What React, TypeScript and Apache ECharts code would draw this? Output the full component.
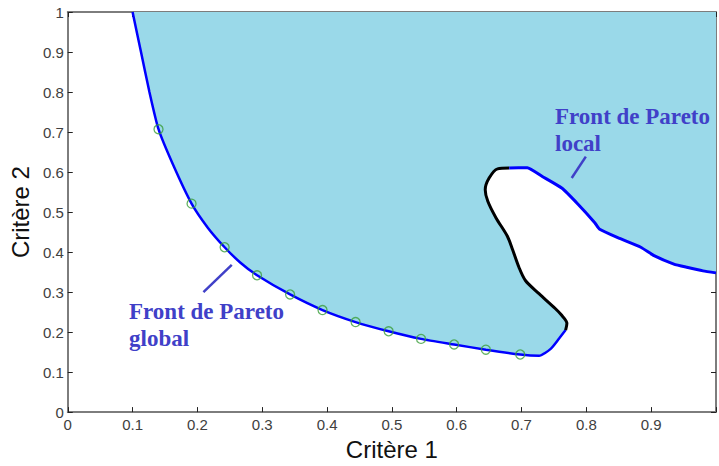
import React, { useEffect, useRef } from 'react';
import * as echarts from 'echarts';

// Global Pareto front (Critère 1, Critère 2), from the top edge down to the bend
const globalFront: [number, number][] = [
  [0.100, 1.000], [0.113, 0.900], [0.126, 0.800], [0.140, 0.707], [0.1625, 0.618],
  [0.191, 0.521], [0.216, 0.461], [0.242, 0.412], [0.266, 0.374], [0.292, 0.342],
  [0.343, 0.294], [0.393, 0.255], [0.444, 0.225], [0.495, 0.202], [0.545, 0.183],
  [0.596, 0.169], [0.645, 0.156], [0.698, 0.144], [0.727, 0.141], [0.745, 0.158],
  [0.758, 0.184], [0.768, 0.205],
];

// Sampled solutions lying on the global front
const frontSamples: [number, number][] = [
  [0.140, 0.707], [0.191, 0.521], [0.242, 0.412], [0.292, 0.342], [0.343, 0.294],
  [0.393, 0.255], [0.444, 0.225], [0.495, 0.202], [0.545, 0.183], [0.596, 0.169],
  [0.645, 0.156], [0.698, 0.144],
];

// Dominated boundary joining the two fronts
const dominatedEdge: [number, number][] = [
  [0.768, 0.205], [0.770, 0.222], [0.762, 0.242], [0.752, 0.259], [0.727, 0.296],
  [0.706, 0.329], [0.696, 0.362], [0.686, 0.407], [0.678, 0.440], [0.6605, 0.486],
  [0.648, 0.527], [0.644, 0.556], [0.650, 0.585], [0.663, 0.608], [0.681, 0.610],
];

// Local Pareto front, running to the right edge
const localFront: [number, number][] = [
  [0.681, 0.610], [0.709, 0.611], [0.732, 0.589], [0.762, 0.560], [0.7875, 0.519],
  [0.813, 0.4735], [0.8206, 0.457], [0.8485, 0.436], [0.884, 0.412], [0.9044, 0.391],
  [0.935, 0.370], [0.955, 0.362], [0.980, 0.353], [1.000, 0.348],
];

// Upper-right corners closing the feasible region
const regionCorners: [number, number][] = [[1.0, 1.0], [0.1, 1.0]];

// Leader lines from the captions to the fronts
const globalLeader: [number, number][] = [[0.253, 0.368], [0.2093, 0.300]];
const localLeader: [number, number][] = [[0.7992, 0.6386], [0.7774, 0.585]];

const xName = 'Critère 1';
const yName = 'Critère 2';

const feasibleOutline = [...globalFront, ...dominatedEdge, ...localFront, ...regionCorners];

const SANS = '"Liberation Sans", Arial, Helvetica, sans-serif';
const SERIF = '"Liberation Serif", "Times New Roman", serif';
const CAPTION = '#4040c8';

const tickLabel = (v: number) => (v > 0.99 ? '1' : String(Math.round(v * 10) / 10));

function axisBase(hideLabels: boolean) {
  return {
    type: 'value' as const,
    min: 0,
    max: 1,
    interval: 0.1,
    axisLine: { show: true, onZero: false, lineStyle: { color: '#7d7d7d', width: 2 } },
    axisTick: { show: true, inside: true, length: 5, lineStyle: { color: '#222', width: 1 } },
    splitLine: { show: false },
    axisLabel: hideLabels
      ? { show: false }
      : { show: true, fontSize: 15, color: '#404040', fontFamily: SANS },
  };
}

function caption(text: string, x: number, y: number) {
  return {
    type: 'text', x, y, z: 20, silent: true,
    style: { text, fill: CAPTION, font: `bold 23px ${SERIF}`, align: 'left', verticalAlign: 'middle' },
  };
}

export default function App() {
  const ref = useRef<HTMLDivElement>(null);

  useEffect(() => {
    if (!ref.current) return;
    const chart = echarts.init(ref.current, undefined, { renderer: 'svg' });

    const x0 = axisBase(false);
    const y0 = axisBase(false);

    chart.setOption({
      animation: false,
      backgroundColor: '#ffffff',
      grid: { left: 67, top: 12, width: 656, height: 404 },
      xAxis: [
        {
          ...x0,
          position: 'bottom',
          name: xName,
          nameLocation: 'middle',
          nameGap: 24,
          nameTextStyle: { fontSize: 24, color: '#111', fontFamily: SANS },
          axisLabel: {
            ...x0.axisLabel,
            margin: 5,
            formatter: (v: number) => (v > 0.99 ? '' : tickLabel(v)),
          },
        },
        { ...axisBase(true), position: 'top' },
      ],
      yAxis: [
        {
          ...y0,
          position: 'left',
          name: yName,
          nameLocation: 'middle',
          nameRotate: 90,
          nameGap: 30,
          nameTextStyle: { fontSize: 24, color: '#111', fontFamily: SANS },
          axisLabel: { ...y0.axisLabel, margin: 4, formatter: tickLabel },
        },
        { ...axisBase(true), position: 'right' },
      ],
      graphic: [
        caption('Front de Pareto', 129, 311),
        caption('global', 129, 338),
        caption('Front de Pareto', 555, 116.5),
        caption('local', 555, 143),
      ],
      series: [
        {
          type: 'custom',
          silent: true,
          clip: false,
          data: [feasibleOutline[0]],
          renderItem: (_params: any, api: any) => ({
            type: 'polygon',
            shape: { points: feasibleOutline.map((p) => api.coord(p)) },
            style: { fill: '#9ad9e9', stroke: 'none' },
          }),
          z: 1,
        },
        {
          type: 'line', data: globalFront, showSymbol: false, silent: true, smooth: 0.2,
          lineStyle: { color: '#0000ff', width: 2.5 }, z: 3,
        },
        {
          type: 'line', data: dominatedEdge, showSymbol: false, silent: true, smooth: 0.3,
          lineStyle: { color: '#000000', width: 3 }, z: 3,
        },
        {
          type: 'line', data: localFront, showSymbol: false, silent: true, smooth: 0.15,
          lineStyle: { color: '#0000ff', width: 3 }, z: 3,
        },
        {
          type: 'scatter', data: frontSamples, symbol: 'circle', symbolSize: 9, silent: true,
          itemStyle: { color: 'rgba(0,0,0,0)', borderColor: '#3c9f3c', borderWidth: 1.3 }, z: 4,
        },
        {
          type: 'line', data: globalLeader, showSymbol: false, silent: true,
          lineStyle: { color: CAPTION, width: 2.5 }, z: 3,
        },
        {
          type: 'line', data: localLeader, showSymbol: false, silent: true,
          lineStyle: { color: CAPTION, width: 2.5 }, z: 3,
        },
      ],
    });

    return () => chart.dispose();
  }, []);

  return (
    <div
      ref={ref}
      style={{ position: 'absolute', left: 0, top: 0, width: 719, height: 466, background: '#fff' }}
    />
  );
}
